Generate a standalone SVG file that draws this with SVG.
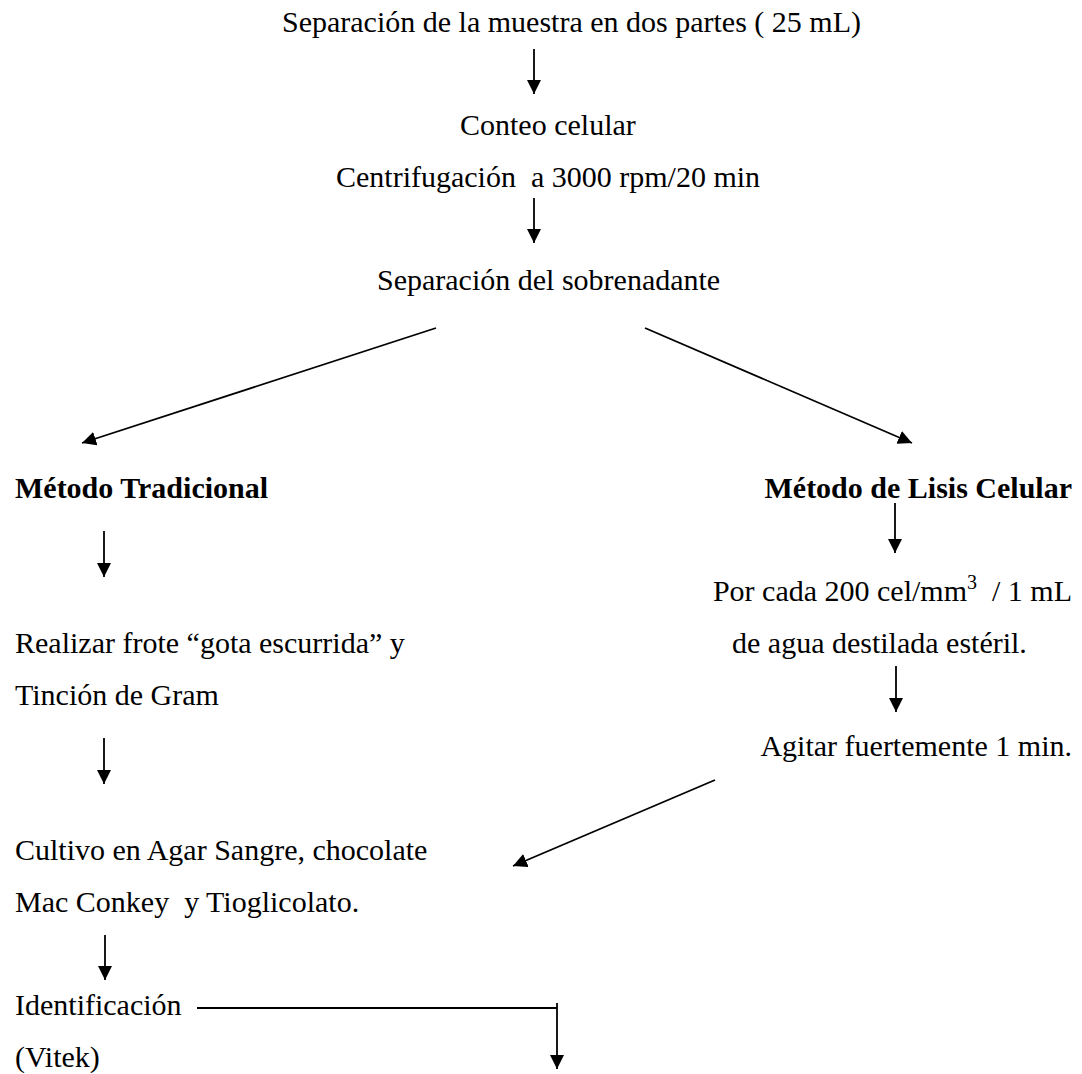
<svg xmlns="http://www.w3.org/2000/svg" width="1082" height="1074" viewBox="0 0 1082 1074">
<style>
text{font-family:'Liberation Serif','Times New Roman',Times,serif;font-size:30px;fill:#000;white-space:pre}
.b{font-weight:bold}
.e{text-anchor:end}
.c line{stroke:#000;stroke-width:1.8;fill:none}
</style>
<defs>
<marker id="ah" markerUnits="userSpaceOnUse" markerWidth="16" markerHeight="14" refX="14" refY="7" orient="auto">
<path d="M0,0 L14,7 L0,14 z" fill="#000"/>
</marker>
</defs>
<rect width="1082" height="1074" fill="#fff"/>
<g id="n1"><text x="282" y="32">Separación de la muestra en dos partes ( 25 mL)</text></g>
<g id="n2"><text x="460" y="135">Conteo celular</text></g>
<g id="n3"><text x="336" y="187" xml:space="preserve">Centrifugación  a 3000 rpm/20 min</text></g>
<g id="n4"><text x="377" y="290">Separación del sobrenadante</text></g>
<g id="n5"><text x="15" y="498" class="b">Método Tradicional</text></g>
<g id="n6"><text x="1072" y="498" class="b e">Método de Lisis Celular</text></g>
<g id="n7"><text x="1072" y="601" class="e" xml:space="preserve">Por cada 200 cel/mm<tspan font-size="20" dy="-12">3</tspan><tspan dy="12">  / 1 mL</tspan></text>
<text x="732" y="653">de agua destilada estéril.</text></g>
<g id="n8"><text x="15" y="653">Realizar frote “gota escurrida” y</text>
<text x="15" y="705">Tinción de Gram</text></g>
<g id="n9"><text x="1072" y="756" class="e">Agitar fuertemente 1 min.</text></g>
<g id="n10"><text x="15" y="860">Cultivo en Agar Sangre, chocolate</text>
<text x="15" y="912" xml:space="preserve">Mac Conkey  y Tioglicolato.</text></g>
<g id="n11"><text x="15" y="1015">Identificación</text>
<text x="15" y="1067">(Vitek)</text></g>
<g id="connectors" class="c">
<line x1="534" y1="49" x2="534" y2="94" marker-end="url(#ah)"/>
<line x1="534" y1="198" x2="534" y2="243" marker-end="url(#ah)"/>
<line x1="436" y1="328" x2="82" y2="443" marker-end="url(#ah)"/>
<line x1="645" y1="328" x2="912" y2="443" marker-end="url(#ah)"/>
<line x1="104" y1="531" x2="104" y2="577" marker-end="url(#ah)"/>
<line x1="895" y1="503" x2="895" y2="553" marker-end="url(#ah)"/>
<line x1="896" y1="666" x2="896" y2="712" marker-end="url(#ah)"/>
<line x1="104" y1="738" x2="104" y2="784" marker-end="url(#ah)"/>
<line x1="715" y1="780" x2="513" y2="866" marker-end="url(#ah)"/>
<line x1="105" y1="935" x2="105" y2="980" marker-end="url(#ah)"/>
<line x1="197" y1="1008" x2="557" y2="1008"/>
<line x1="557" y1="1003" x2="557" y2="1069" marker-end="url(#ah)"/>
</g>
</svg>
